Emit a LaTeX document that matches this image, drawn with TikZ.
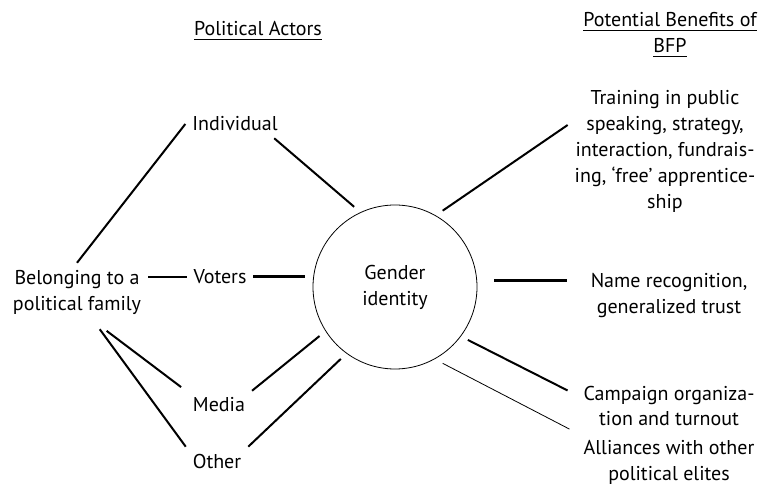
\documentclass[tikz,border=0pt]{standalone}
\usepackage{fontspec}
\setmainfont{PT Sans}
\begin{document}
\begin{tikzpicture}[x=0.5pt, y=-0.5pt,
    every node/.style={font=\fontsize{10}{13}\selectfont, align=center},
    link/.style={line width=1pt},
    heavy link/.style={line width=1.5pt},
    thin link/.style={line width=0.4pt}]
  \useasboundingbox (0,0) rectangle (761,486);

  % headings
  \node (actors) at (258,31) {\underline{Political Actors}};
  \node (benefits) at (670,35) {\underline{Potential Benefits of}\\\underline{BFP}};

  % centre
  \node[draw, circle, line width=0.4pt, minimum size=82pt, outer sep=4pt] (gender) at (395,287) {Gender\\identity};

  % political actors
  \node (individual) at (235,124) {Individual};
  \node (voters) at (220,277) {Voters};
  \node (media) at (219,405) {Media};
  \node (other) at (217,461) {Other};
  \node (family) at (77,292) {Belonging to a\\political family};

  % potential benefits
  \node (training) at (665,151) {Training in public\\speaking, strategy,\\interaction, fundrais-\\ing, `free' apprentice-\\ship};
  \node (name) at (669,296) {Name recognition,\\generalized trust};
  \node (campaign) at (669,406) {Campaign organiza-\\tion and turnout};
  \node (alliances) at (669,462) {Alliances with other\\political elites};

  % left side
  \draw[link] (family.north) -- (individual.west);
  \draw[link] (voters.west) -- (voters.west -| family.east);
  \draw[link, shorten <=8pt, shorten >=3pt] (family.-60) -- (media.north west);
  \draw[link, shorten <=5pt] (family.-60) -- (other.north west);
  \draw[link] (individual.-20) -- (gender.117);
  \draw[heavy link] (voters.east) -- (gender.west |- voters.east);
  \draw[link] (media.north east) -- (gender.213);
  \draw[link] (other.north east) -- (gender.233);

  % right side
  \draw[link] (gender.58) -- ([yshift=13pt]training.west);
  \coordinate (nameline) at ([yshift=7.5pt]name.west);
  \draw[heavy link, shorten <=8.5pt, shorten >=4.5pt] (nameline) -- (gender.east |- nameline);
  \draw[link, shorten >=5pt] (gender.-36) -- ([yshift=5.5pt]campaign.west);
  \draw[thin link, shorten >=4pt] (gender.-58) -- (alliances.north west);
\end{tikzpicture}
\end{document}
